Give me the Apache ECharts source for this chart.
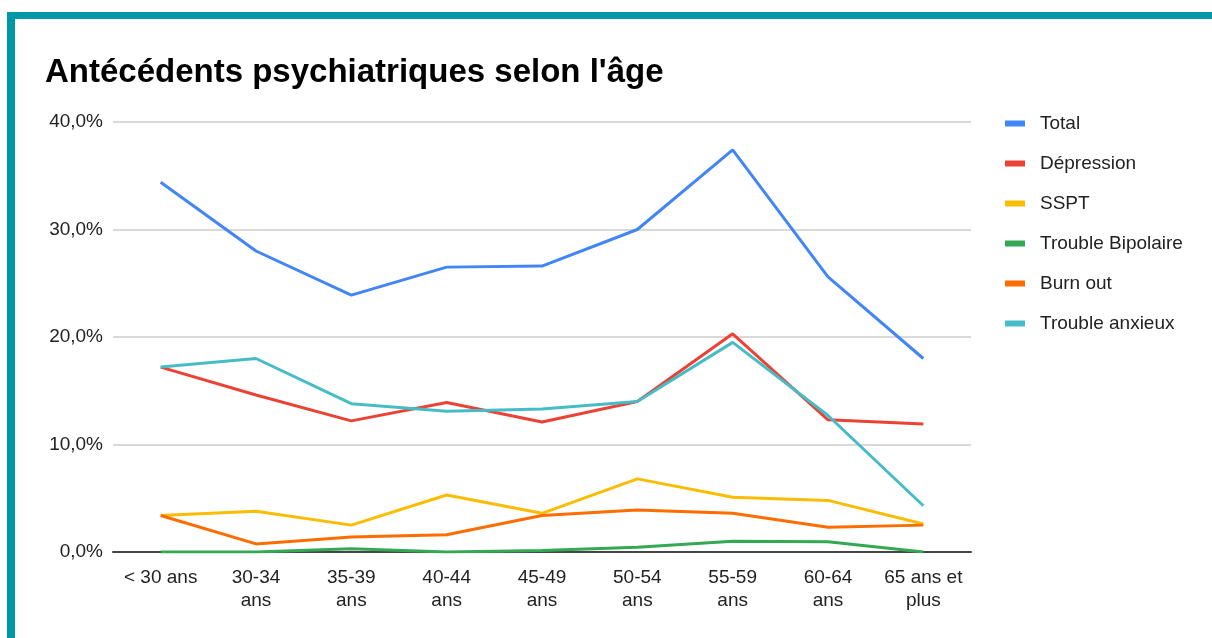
<!DOCTYPE html>
<html>
<head>
    <meta charset="UTF-8">
    <title>Antécédents psychiatriques selon l'âge</title>
    <style>
        html, body { margin: 0; padding: 0; background: #fff; }
        #frame {
            position: absolute; left: 7px; top: 12px; right: 0; bottom: 0;
            border-top: 7px solid #0097a7; border-left: 8px solid #0097a7;
        }
        #main { position: absolute; left: 0; top: 0; width: 1212px; height: 638px; }
    </style>
</head>
<body>
    <div id="frame"></div>
    <div id="main"></div>

    <script src="https://cdn.jsdelivr.net/npm/echarts@6/dist/echarts.min.js"></script>
    <script>
        // tranches d'age
        var categories = ['< 30 ans', '30-34\nans', '35-39\nans', '40-44\nans', '45-49\nans',
                          '50-54\nans', '55-59\nans', '60-64\nans', '65 ans et\nplus'];
        // valeurs en %
        var total      = [34.4, 28.0, 23.9, 26.5, 26.6, 30.0, 37.4, 25.6, 18.0];
        var depression = [17.2, 14.6, 12.2, 13.9, 12.1, 14.0, 20.3, 12.3, 11.9];
        var sspt       = [3.4, 3.8, 2.5, 5.3, 3.6, 6.8, 5.1, 4.8, 2.6];
        var bipolaire  = [0, 0, 0.3, 0, 0.15, 0.45, 1.0, 0.95, 0];
        var burnout    = [3.4, 0.75, 1.4, 1.6, 3.4, 3.9, 3.6, 2.3, 2.5];
        var anxieux    = [17.2, 18.0, 13.8, 13.1, 13.3, 14.0, 19.5, 12.7, 4.3];
        var yTicks = [0, 10, 20, 30, 40];

        var font = 'Arial, "Liberation Sans", sans-serif';
        var app = echarts.init(document.getElementById('main'));

        function line(name, data, color) {
            return {
                name: name,
                type: 'line',
                data: data,
                symbol: 'none',
                lineStyle: {width: 3, color: color},
                itemStyle: {color: color}
            };
        }

        var option = {
            animation: false,
            title: {
                text: "Antécédents psychiatriques selon l'âge",
                left: 40,
                top: 51,
                textStyle: {fontFamily: font, fontSize: 33, fontWeight: 'bold', color: '#000'}
            },
            legend: {
                orient: 'vertical',
                left: 1000,
                top: 109,
                icon: 'rect',
                itemWidth: 20,
                itemHeight: 6,
                itemGap: 21,
                textStyle: {fontFamily: font, fontSize: 19, color: '#222', padding: [0, 0, 0, 10]}
            },
            grid: {left: 113, right: 241, top: 122, bottom: 86},
            xAxis: {
                type: 'category',
                data: categories,
                axisLine: {lineStyle: {color: '#444', width: 2}},
                axisTick: {show: false},
                axisLabel: {fontFamily: font, fontSize: 19, color: '#222', margin: 14, lineHeight: 23, interval: 0}
            },
            yAxis: {
                type: 'value',
                min: yTicks[0],
                max: yTicks[yTicks.length - 1],
                interval: 10,
                axisLine: {show: false},
                axisTick: {show: false},
                splitLine: {lineStyle: {color: '#ccc', width: 1.5}},
                axisLabel: {
                    fontFamily: font, fontSize: 19, color: '#222', margin: 10,
                    formatter: function (v) { return v.toFixed(1).replace('.', ',') + '%'; }
                }
            },
            series: [
                line('Total', total, '#4285f4'),
                line('Dépression', depression, '#ea4335'),
                line('SSPT', sspt, '#fbbc04'),
                line('Trouble Bipolaire', bipolaire, '#34a853'),
                line('Burn out', burnout, '#ff6d01'),
                line('Trouble anxieux', anxieux, '#46bdc6')
            ]
        };
        app.setOption(option);
    </script>
</body>
</html>
